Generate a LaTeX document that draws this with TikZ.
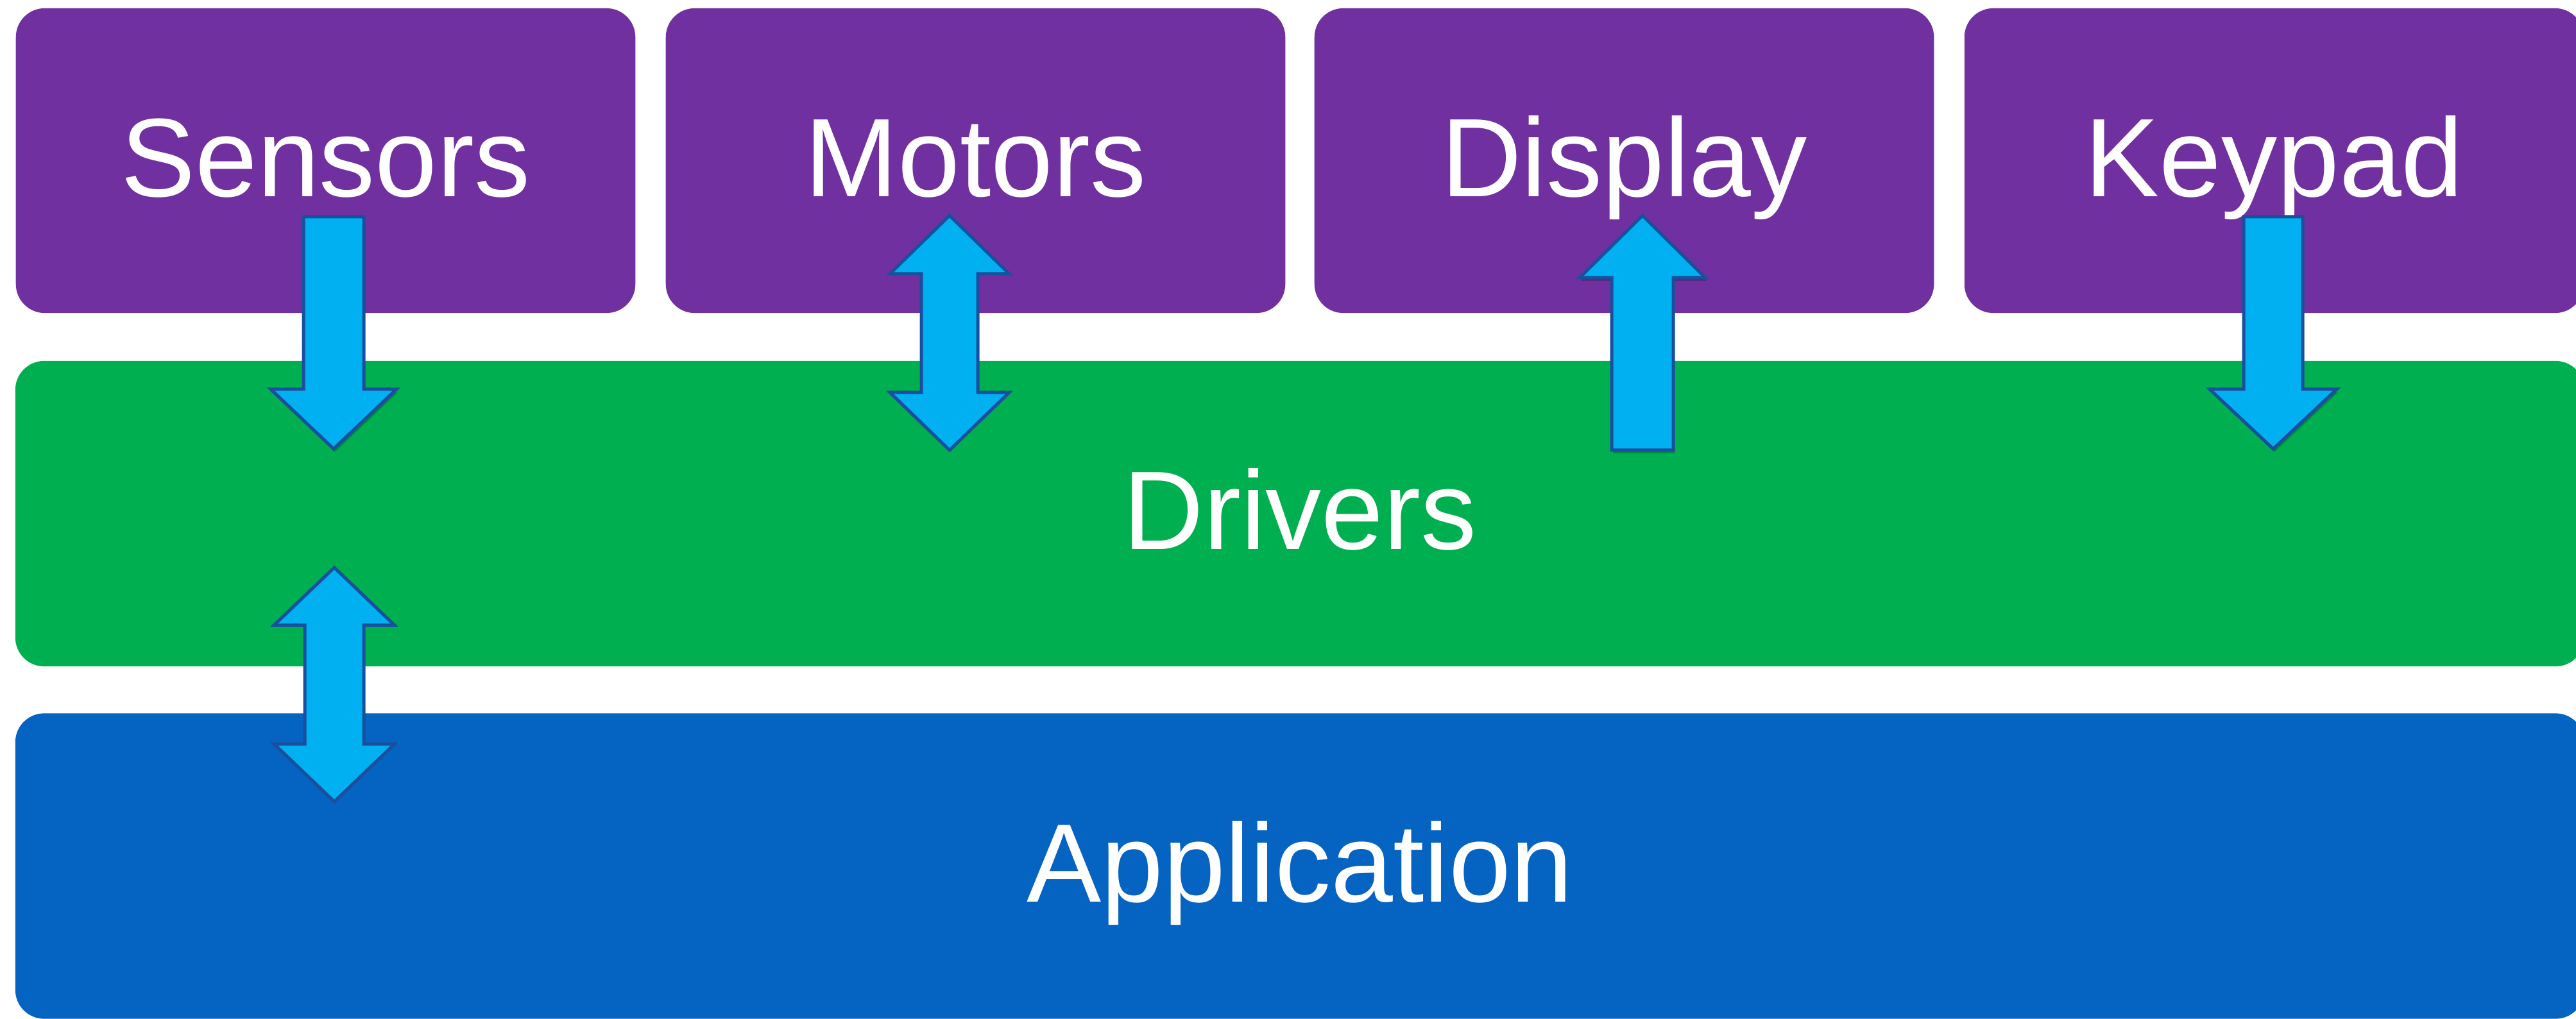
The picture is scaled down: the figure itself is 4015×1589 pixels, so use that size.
\documentclass[tikz,border=0pt]{standalone}
\usepackage{fontspec}
\setmainfont{Liberation Sans}
\definecolor{boxpurple}{HTML}{7030A0}
\definecolor{boxgreen}{HTML}{00B050}
\definecolor{boxblue}{HTML}{0563C1}
\definecolor{arrowfill}{HTML}{00B0F0}
\definecolor{arrowline}{HTML}{1A4F9E}
% single block arrow: cx, shaft half width, head half width, tail y, head-base y, tip y
\newcommand\BlockArrowOne[7][]{%
  \ifx\relax#1\relax\else
  \path[arrowshadow] ({#2-#3+2},#5+5) -- ({#2+#3+2},#5+5) -- ({#2+#3+2},#6+5) -- ({#2+#4+2},#6+5) -- ({#2+2},#7+5) -- ({#2-#4+2},#6+5) -- ({#2-#3+2},#6+5) -- cycle;
  \fi
  \path[blockarrow] ({#2-#3},#5) -- ({#2+#3},#5) -- ({#2+#3},#6) -- ({#2+#4},#6) -- (#2,#7) -- ({#2-#4},#6) -- ({#2-#3},#6) -- cycle;}
% double block arrow: cx, shaft half, head half, top tip, top base, bottom base, bottom tip
\newcommand\BlockArrowTwo[7]{%
  \path[blockarrow] (#1,#4) -- ({#1+#3},#5) -- ({#1+#2},#5) -- ({#1+#2},#6) -- ({#1+#3},#6) -- (#1,#7) -- ({#1-#3},#6) -- ({#1-#2},#6) -- ({#1-#2},#5) -- ({#1-#3},#5) -- cycle;}
\begin{document}
\begin{tikzpicture}[x=0.01cm,y=-0.01cm,
  layer/.style={rectangle, rounded corners=0.45cm, inner sep=0pt, text=white,
    font=\fontsize{49.5pt}{59pt}\selectfont, text height=1.25cm, text depth=0.14cm},
  hwbox/.style={layer, fill=boxpurple, minimum width=9.65cm, minimum height=4.75cm},
  widebox/.style={layer, minimum width=40.02cm, minimum height=4.76cm},
  blockarrow/.style={fill=arrowfill, draw=arrowline, line width=0.05cm, line join=miter},
  arrowshadow/.style={fill=black, opacity=0.2, draw=none}]
\useasboundingbox (0,0) rectangle (4015,1589);
\clip (0,0) rectangle (4015,1589);
% hardware row
\node[hwbox] (sensors) at (507.5,250.5) {Sensors};
\node[hwbox] (motors)  at (1520.5,250.5) {Motors};
\node[hwbox] (display) at (2531.5,250.5) {Display};
\node[hwbox] (keypad)  at (3544.5,250.5) {Keypad};
% layers
\node[widebox, fill=boxgreen] (drivers) at (2026,801) {Drivers};
\node[widebox, fill=boxblue] (application) at (2026,1350.5) {Application};
% block arrows
\BlockArrowOne[s]{520}{47}{98}{338}{607}{700}
\BlockArrowTwo{1480}{44}{93}{336}{427}{612}{702}
\BlockArrowOne[s]{2560}{48}{98}{702}{433}{336}
\BlockArrowOne[s]{3543}{46}{99}{338}{607}{700}
\BlockArrowTwo{521}{46}{94}{885}{975}{1160}{1250}
\end{tikzpicture}
\end{document}
